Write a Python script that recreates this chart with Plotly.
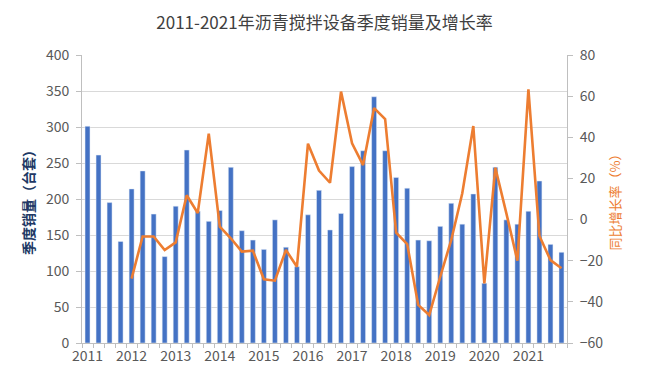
import plotly.graph_objects as go

years = ["2011", "2012", "2013", "2014", "2015", "2016", "2017", "2018", "2019", "2020", "2021"]
quarters = [f"{y}Q{q}" for y in years for q in range(1, 5)]

sales = [301, 261, 195, 141,
         214, 239, 179, 120,
         190, 268, 183, 169,
         184, 244, 156, 143,
         130, 171, 133, 106,
         178, 212, 157, 180,
         245, 267, 342, 267,
         230, 215, 143, 142,
         162, 194, 165, 207,
         83, 244, 171, 165,
         183, 225, 137, 126]

growth = [None, None, None, None,
          -28.7, -8.2, -8.2, -14.8,
          -11.1, 11.8, 3.2, 41.8,
          -3.5, -9.1, -15.6, -15.1,
          -29.0, -29.7, -14.8, -22.9,
          36.9, 23.8, 17.9, 62.2,
          37.1, 26.5, 54.2, 48.9,
          -6.4, -11.9, -41.5, -46.4,
          -27.8, -9.9, 12.8, 45.5,
          -31.0, 25.2, 3.0, -20.0,
          63.3, -8.0, -19.7, -23.7]

x = list(range(len(quarters)))
tick_pos = [i for i, q in enumerate(quarters) if q.endswith("Q1")]

font = "Noto Sans CJK SC"
tick_color = "#595959"
grid_color = "#d9d9d9"

fig = go.Figure()
fig.add_trace(go.Bar(x=x, y=sales, marker_color="#4472C4", name="季度销量",
                     hovertext=quarters))
fig.add_trace(go.Scatter(x=x, y=growth, mode="lines", yaxis="y2",
                         line=dict(color="#ED7D31", width=2.6),
                         name="同比增长率", connectgaps=False, hovertext=quarters))

fig.update_layout(
    width=650, height=377,
    margin=dict(l=74, r=91, t=47, b=42, autoexpand=False),
    paper_bgcolor="white", plot_bgcolor="white",
    showlegend=False,
    bargap=0.55,
    title=dict(text="2011-2021年沥青搅拌设备季度销量及增长率", x=(74 + 485 / 2) / 650,
               xanchor="center", y=1 - 15 / 377, yanchor="middle",
               font=dict(family=font, size=17, color="#404040")),
    font=dict(family=font, size=14, color=tick_color),
    xaxis=dict(
        range=[-0.5, len(quarters) - 0.5], automargin=False,
        tickmode="array", tickvals=tick_pos, ticktext=years,
        ticks="", showgrid=False, ticklabelstandoff=0,
        showline=True, linecolor="#bfbfbf", linewidth=1,
        tickfont=dict(family=font, size=14, color=tick_color),
        minor=dict(ticks="outside", tick0=-0.5, dtick=1, ticklen=4,
                   tickcolor="#bfbfbf", showgrid=False),
    ),
    yaxis=dict(
        range=[0, 400], dtick=50, automargin=False,
        showgrid=True, gridcolor=grid_color, gridwidth=1,
        showline=True, linecolor="#bfbfbf", ticks="outside", ticklen=5,
        tickcolor="#bfbfbf", zeroline=False, ticklabelstandoff=4,
        tickfont=dict(family=font, size=14, color=tick_color),
        title=dict(text="<b>季度销量（台套）</b>", standoff=7,
                   font=dict(family=font, size=14, color="#203864")),
    ),
    yaxis2=dict(
        range=[-60, 80], dtick=20, overlaying="y", side="right", automargin=False,
        showgrid=False, zeroline=False,
        showline=True, linecolor="#bfbfbf", ticks="outside", ticklen=5,
        tickcolor="#bfbfbf", ticklabelstandoff=4,
        tickfont=dict(family=font, size=14, color=tick_color),
        title=dict(text="同比增长率（%）", standoff=8,
                   font=dict(family=font, size=13, color="#ED7D31")),
    ),
)

fig.write_html("out.html")
